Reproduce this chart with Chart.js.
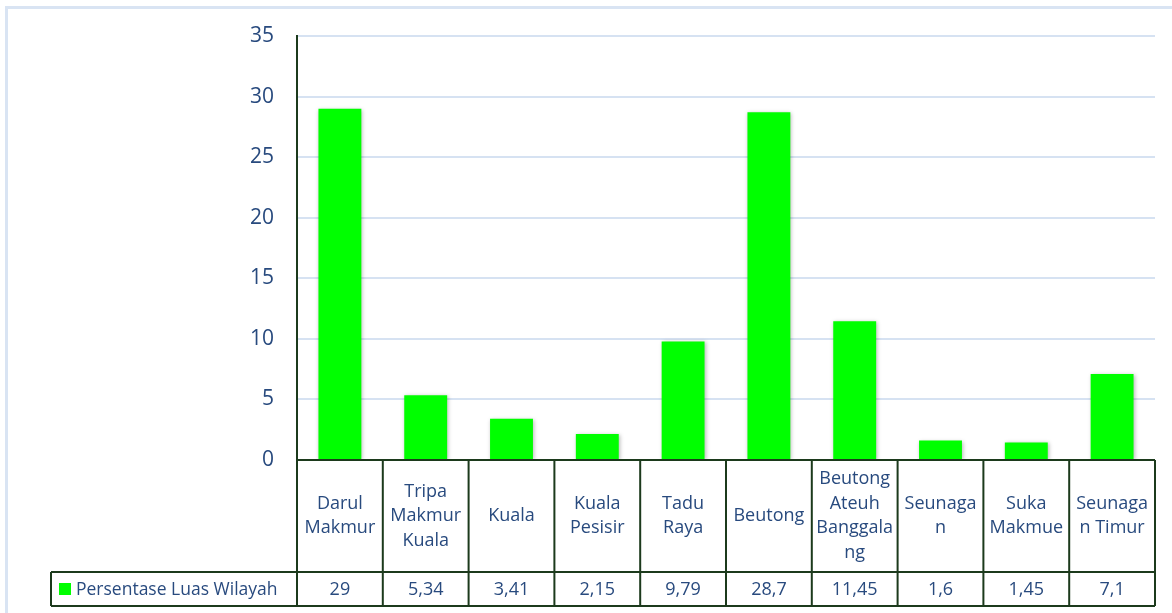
<!DOCTYPE html>
<html>
<head>
<meta charset="utf-8">
<script src="https://cdn.jsdelivr.net/npm/chart.js@4.4.1/dist/chart.umd.min.js"></script>
<style>
  html, body { margin: 0; padding: 0; background: #fff; }
  #wrap { width: 1172px; height: 613px; }
</style>
</head>
<body>
<div id="wrap"><canvas id="myChart" width="1172" height="613"></canvas></div>
<script>
// data
const kecamatan = [
    ['Darul', 'Makmur'],
    ['Tripa', 'Makmur', 'Kuala'],
    ['Kuala'],
    ['Kuala', 'Pesisir'],
    ['Tadu', 'Raya'],
    ['Beutong'],
    ['Beutong', 'Ateuh', 'Banggala', 'ng'],
    ['Seunaga', 'n'],
    ['Suka', 'Makmue'],
    ['Seunaga', 'n Timur']
];
const persentase = [29, 5.34, 3.41, 2.15, 9.79, 28.7, 11.45, 1.6, 1.45, 7.1];
const seriesName = 'Persentase Luas Wilayah';
const yTicks = [0, 5, 10, 15, 20, 25, 30, 35];

const textColor = '#284a7e';
const lineColor = '#1c3a1c';
const fontFam = '"Open Sans", "Noto Sans", sans-serif';

const fmt = v => String(v).replace('.', ',');

// light blue frame around the whole chart
const framePlugin = {
    id: 'frame',
    beforeDraw(chart) {
        const ctx = chart.ctx;
        ctx.save();
        ctx.strokeStyle = '#d9e4f3';
        ctx.lineWidth = 3;
        ctx.strokeRect(6.5, 7.5, 1300, 800);
        ctx.restore();
    }
};

// soft shadow under the bars
const shadowPlugin = {
    id: 'barShadow',
    beforeDatasetsDraw(chart) {
        const ctx = chart.ctx;
        ctx.save();
        ctx.shadowColor = 'rgba(0,0,0,0.28)';
        ctx.shadowBlur = 4;
        ctx.shadowOffsetX = 1;
        ctx.shadowOffsetY = 1;
    },
    afterDatasetsDraw(chart) {
        chart.ctx.restore();
    }
};

// data table under the plot (Excel style)
const tablePlugin = {
    id: 'dataTable',
    afterDraw(chart) {
        const ctx = chart.ctx;
        const area = chart.chartArea;
        const xs = chart.scales.x;
        const n = kecamatan.length;
        const colW = (area.right - area.left) / n;
        const top = area.bottom;
        const mid = top + 112;
        const bot = mid + 34;
        const legendLeft = 51;

        ctx.save();
        ctx.strokeStyle = lineColor;
        ctx.lineWidth = 2;
        ctx.beginPath();
        ctx.moveTo(area.left, top); ctx.lineTo(area.right, top);
        ctx.moveTo(legendLeft, mid); ctx.lineTo(area.right, mid);
        ctx.moveTo(legendLeft, bot); ctx.lineTo(area.right, bot);
        ctx.moveTo(legendLeft, mid); ctx.lineTo(legendLeft, bot);
        for (let i = 0; i <= n; i++) {
            const x = area.left + i * colW;
            ctx.moveTo(x, top); ctx.lineTo(x, bot);
        }
        ctx.stroke();

        ctx.fillStyle = textColor;
        ctx.font = '18px ' + fontFam;
        ctx.textAlign = 'center';
        ctx.textBaseline = 'middle';
        const lh = 24.5;
        kecamatan.forEach((lines, i) => {
            const cx = xs.getPixelForValue(i);
            const cy = (top + mid) / 2;
            const y0 = cy - (lines.length - 1) * lh / 2;
            lines.forEach((t, j) => ctx.fillText(t, cx, y0 + j * lh));
            ctx.fillText(fmt(persentase[i]), cx, (mid + bot) / 2 + 1);
        });

        // legend key + series name
        ctx.fillStyle = '#00ff00';
        ctx.fillRect(59, 583, 12, 12);
        ctx.fillStyle = textColor;
        ctx.textAlign = 'left';
        ctx.font = '17.5px ' + fontFam;
        ctx.fillText(seriesName, 76, (mid + bot) / 2 + 1);
        ctx.restore();
    }
};

const ctx = document.getElementById('myChart').getContext('2d');
const myChart = new Chart(ctx, {
    type: 'bar',
    data: {
        labels: kecamatan.map(l => l.join(' ')),
        datasets: [
            {
                label: seriesName,
                data: persentase,
                backgroundColor: '#00ff00',
                borderWidth: 0,
                categoryPercentage: 1.0,
                barPercentage: 0.5
            }
        ]
    },
    options: {
        responsive: false,
        animation: false,
        layout: { padding: { left: 0, top: 36, right: 17, bottom: 153 } },
        plugins: {
            legend: { display: false },
            tooltip: { enabled: false }
        },
        scales: {
            x: { display: false },
            y: {
                min: 0,
                max: 35,
                afterBuildTicks: scale => { scale.ticks = yTicks.map(v => ({ value: v })); },
                afterFit: scale => { scale.width = 297; },
                ticks: {
                    color: textColor,
                    padding: 23,
                    font: { family: fontFam, size: 21 }
                },
                grid: { color: '#d6e2f2', lineWidth: 2, drawTicks: false },
                border: { color: lineColor, width: 2 }
            }
        }
    },
    plugins: [framePlugin, shadowPlugin, tablePlugin]
});
</script>
</body>
</html>
